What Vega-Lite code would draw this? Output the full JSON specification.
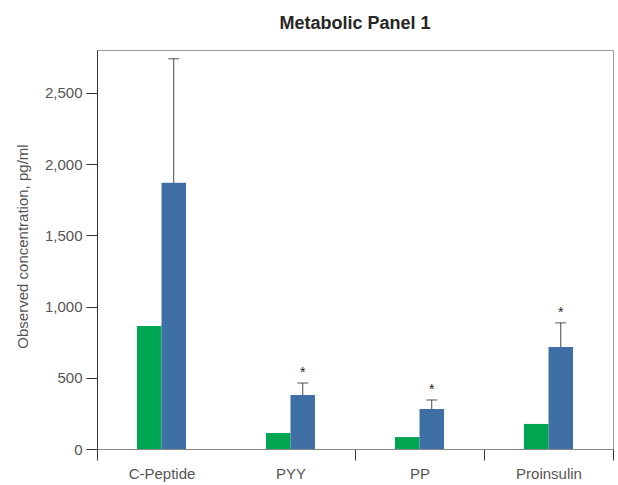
{
  "$schema": "https://vega.github.io/schema/vega-lite/v6.json",
  "autosize": {"type": "none"},
  "padding": {"left": 97, "top": 50, "right": 5, "bottom": 36},
  "width": 516,
  "height": 399,
  "background": "white",
  "title": {
    "text": "Metabolic Panel 1",
    "font": "Liberation Sans",
    "fontSize": 18,
    "fontWeight": "bold",
    "color": "#262626",
    "anchor": "middle",
    "baseline": "alphabetic",
    "offset": 22,
    "dy": 27
  },
  "config": {
    "view": {"stroke": "#9a9a9a", "strokeWidth": 1},
    "font": "Liberation Sans"
  },
  "data": {
    "values": [
      {"analyte": "C-Peptide", "group": "A", "value": 864},
      {"analyte": "C-Peptide", "group": "B", "value": 1868, "upper": 2739, "sig": ""},
      {"analyte": "PYY", "group": "A", "value": 112},
      {"analyte": "PYY", "group": "B", "value": 379, "upper": 463, "sig": "*"},
      {"analyte": "PP", "group": "A", "value": 84},
      {"analyte": "PP", "group": "B", "value": 281, "upper": 344, "sig": "*"},
      {"analyte": "Proinsulin", "group": "A", "value": 176},
      {"analyte": "Proinsulin", "group": "B", "value": 716, "upper": 885, "sig": "*"}
    ]
  },
  "encoding": {
    "x": {
      "field": "analyte",
      "type": "nominal",
      "sort": ["C-Peptide", "PYY", "PP", "Proinsulin"],
      "scale": {"paddingInner": 0, "paddingOuter": 0},
      "axis": {
        "title": null,
        "labelAngle": 0,
        "labelFontSize": 15,
        "labelColor": "#555555",
        "labelPadding": 6,
        "tickBand": "extent",
        "tickExtra": false,
        "tickOpacity": {"condition": {"test": "datum.value === 'C-Peptide'", "value": 0}, "value": 1},
        "tickSize": 11,
        "tickColor": "#333333",
        "domainColor": "#888888"
      }
    },
    "xOffset": {
      "field": "group",
      "type": "nominal",
      "scale": {"domain": ["L", "A", "B", "R"], "paddingInner": 0, "paddingOuter": 0.633}
    }
  },
  "layer": [
    {
      "mark": {"type": "bar"},
      "encoding": {
        "y": {
          "field": "value",
          "type": "quantitative",
          "scale": {"domain": [0, 2800], "nice": false},
          "axis": {
            "title": "Observed concentration, pg/ml",
            "titleFontSize": 15,
            "titleFontWeight": "normal",
            "titleColor": "#555555",
            "titleX": -75,
            "titleY": 196,
            "titleAngle": -90,
            "titleAlign": "center",
            "titleBaseline": "middle",
            "values": [0, 500, 1000, 1500, 2000, 2500],
            "format": ",d",
            "grid": false,
            "labelFontSize": 15,
            "labelColor": "#555555",
            "labelPadding": 4,
            "tickSize": 11,
            "tickColor": "#333333",
            "domainColor": "#333333"
          }
        },
        "color": {
          "field": "group",
          "type": "nominal",
          "scale": {"domain": ["A", "B"], "range": ["#00a651", "#3e70a6"]},
          "legend": null
        }
      }
    },
    {
      "transform": [{"filter": "datum.upper != null"}],
      "mark": {"type": "rule", "color": "#444444", "strokeWidth": 1},
      "encoding": {
        "y": {"field": "value", "type": "quantitative"},
        "y2": {"field": "upper"}
      }
    },
    {
      "transform": [{"filter": "datum.upper != null"}],
      "mark": {"type": "tick", "color": "#333333", "thickness": 1.2, "size": 11, "orient": "horizontal"},
      "encoding": {
        "y": {"field": "upper", "type": "quantitative"}
      }
    },
    {
      "transform": [{"filter": "datum.upper != null"}],
      "mark": {"type": "text", "color": "#222222", "fontSize": 14, "baseline": "alphabetic", "dy": -6},
      "encoding": {
        "y": {"field": "upper", "type": "quantitative"},
        "text": {"field": "sig"}
      }
    }
  ]
}
